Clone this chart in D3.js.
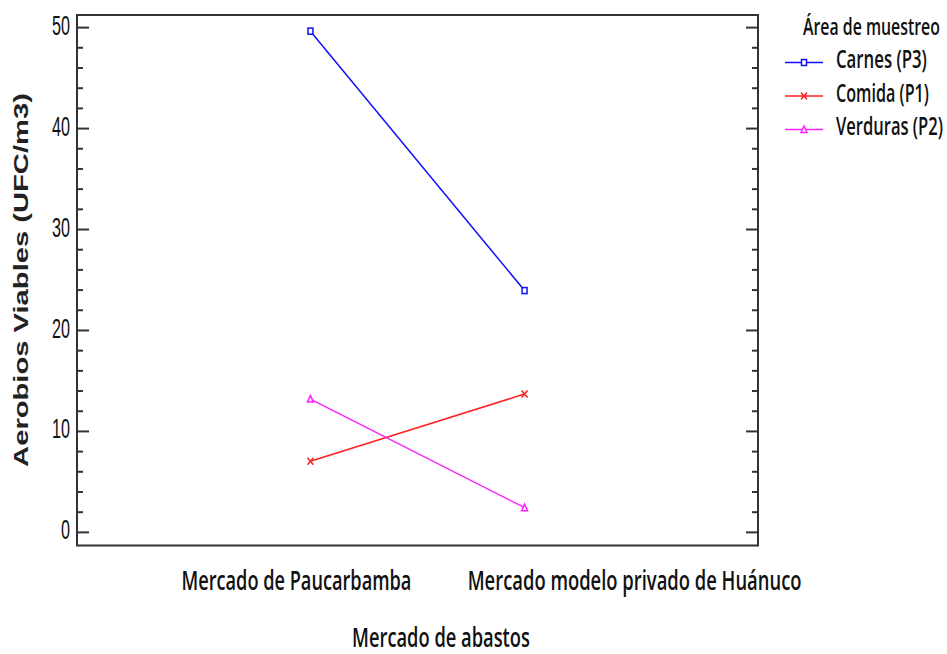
<!DOCTYPE html>
<html>
<head>
<meta charset="utf-8">
<script src="https://cdn.jsdelivr.net/npm/d3@7"></script>
<style>
  body { margin: 0; background: #fff; }
  svg { display: block; }
</style>
</head>
<body>
<svg id="chart" width="947" height="654"></svg>
<script>
// data
var categories = ["Mercado de Paucarbamba", "Mercado modelo privado de Huánuco"];
var seriesNames = ["Carnes (P3)", "Comida (P1)", "Verduras (P2)"];
var carnes = [49.6, 23.9];
var comida = [7.0, 13.65];
var verduras = [13.15, 2.4];
var yTicks = [0, 10, 20, 30, 40, 50];
var legendTitle = "Área de muestreo";
var xTitle = "Mercado de abastos";
var yTitle = "Aerobios Viables (UFC/m3)";

drawChart();

// squeeze a text horizontally so that it is `width` wide, starting at x (or centred / ending there)
function fitText(text, x, y, width, anchor, rotate) {
    var natural = text.node().getComputedTextLength();
    var sx = width / natural;
    var t = "translate(" + x + "," + y + ")" + (rotate ? " rotate(" + rotate + ")" : "") + " scale(" + sx + ",1)";
    text.attr("x", 0).attr("y", 0)
        .attr("text-anchor", anchor || "start")
        .attr("transform", t);
}

function drawChart() {
    var colors = ["#1010ff", "#ff2020", "#ff20ff"];
    var shapes = ["square", "cross", "triangle"];
    var values = [carnes, comida, verduras];

    var plotLeft = 77, plotRight = 758, plotTop = 15, plotBottom = 545.5;
    var axisColor = "#333";
    var labelFont = "'Open Sans', sans-serif";

    var svg = d3.select("#chart");

    if (svg.empty()) {
        throw new Error("Cannot find chart svg");
    }

    var x = d3.scalePoint()
        .domain(categories)
        .range([plotLeft, plotRight])
        .padding(1.09);

    var y = d3.scaleLinear()
        .domain([-1.35, 51.2])
        .range([plotBottom, plotTop]);

    // frame
    svg.append("rect")
        .attr("x", plotLeft)
        .attr("y", plotTop)
        .attr("width", plotRight - plotLeft)
        .attr("height", plotBottom - plotTop)
        .attr("fill", "none")
        .attr("stroke", axisColor)
        .attr("stroke-width", 2);

    var minorTicks = d3.range(2, 51, 2).filter(function (d) { return d % 10 !== 0; });

    function drawTicks(axisFn, xPos) {
        var major = svg.append("g")
            .attr("transform", "translate(" + xPos + ",0)")
            .call(axisFn(y).tickValues(yTicks).tickSize(-12).tickFormat(""));
        var minor = svg.append("g")
            .attr("transform", "translate(" + xPos + ",0)")
            .call(axisFn(y).tickValues(minorTicks).tickSize(-6).tickFormat(""));
        [major, minor].forEach(function (g) {
            g.select(".domain").remove();
            g.selectAll(".tick line").attr("stroke", axisColor).attr("stroke-width", 2);
        });
    }
    drawTicks(d3.axisLeft, plotLeft);
    drawTicks(d3.axisRight, plotRight);

    // y tick labels (narrow)
    var digitWidth = 9;
    yTicks.forEach(function (d) {
        var t = svg.append("text")
            .text(d)
            .attr("dy", "0.28em")
            .style("font-family", "'Liberation Sans', Arial, sans-serif")
            .style("font-size", "27px")
            .style("fill", "#111");
        fitText(t, plotLeft - 7, y(d), String(d).length * digitWidth, "end");
    });

    // x category labels
    var labelOffsets = [-14, 110];
    var labelWidths = [230, 334];
    categories.forEach(function (c, i) {
        var t = svg.append("text")
            .text(c)
            .style("font-family", labelFont)
            .style("font-weight", 600)
            .style("font-size", "27px")
            .style("fill", "#111");
        fitText(t, x(c) + labelOffsets[i], 590, labelWidths[i], "middle");
    });

    // axis titles
    var xt = svg.append("text")
        .text(xTitle)
        .style("font-family", labelFont)
        .style("font-weight", 600)
        .style("font-size", "27px")
        .style("fill", "#111");
    fitText(xt, 441, 647, 178, "middle");

    var yt = svg.append("text")
        .text(yTitle)
        .style("font-family", "'Liberation Sans', Arial, sans-serif")
        .style("font-weight", "bold")
        .style("font-size", "21px")
        .style("fill", "#222");
    fitText(yt, 28, 280, 374, "middle", -90);

    // markers
    function drawMarker(g, shape, color, cx, cy) {
        if (shape === "square") {
            g.append("rect")
                .attr("x", cx - 2.5).attr("y", cy - 3)
                .attr("width", 5).attr("height", 6)
                .attr("fill", "#fff").attr("stroke", color).attr("stroke-width", 1.5);
        } else if (shape === "cross") {
            g.append("path")
                .attr("d", "M" + (cx - 3) + "," + (cy - 3.5) + "L" + (cx + 3) + "," + (cy + 3.5) +
                    "M" + (cx + 3) + "," + (cy - 3.5) + "L" + (cx - 3) + "," + (cy + 3.5))
                .attr("stroke", color).attr("stroke-width", 1.5).attr("fill", "none");
        } else {
            g.append("path")
                .attr("d", "M" + cx + "," + (cy - 3.5) + "L" + (cx + 3) + "," + (cy + 3) + "L" + (cx - 3) + "," + (cy + 3) + "Z")
                .attr("stroke", color).attr("stroke-width", 1.5).attr("fill", "#fff");
        }
    }

    // series lines
    var line = d3.line()
        .x(function (d) { return x(d.cat); })
        .y(function (d) { return y(d.v); });

    values.forEach(function (vals, s) {
        var pts = vals.map(function (v, i) { return { cat: categories[i], v: v }; });
        var g = svg.append("g");
        g.append("path")
            .datum(pts)
            .attr("d", line)
            .attr("fill", "none")
            .attr("stroke", colors[s])
            .attr("stroke-width", 1.5);
        pts.forEach(function (p) {
            drawMarker(g, shapes[s], colors[s], x(p.cat), y(p.v));
        });
    });

    // legend
    var legendX = 785, legendTextX = 836, legendBase = 68, legendStep = 33.5;
    var legendWidths = [91, 93, 107];

    var lt = svg.append("text")
        .text(legendTitle)
        .style("font-family", labelFont)
        .style("font-weight", 600)
        .style("font-size", "24px")
        .style("fill", "#111");
    fitText(lt, 803, 35, 137);

    seriesNames.forEach(function (name, i) {
        var by = legendBase + i * legendStep;
        var g = svg.append("g");
        g.append("line")
            .attr("x1", legendX).attr("x2", legendX + 38)
            .attr("y1", by - 5.5).attr("y2", by - 5.5)
            .attr("stroke", colors[i]).attr("stroke-width", 1.5);
        drawMarker(g, shapes[i], colors[i], legendX + 19, by - 5.5);
        var t = g.append("text")
            .text(name)
            .style("font-family", labelFont)
            .style("font-weight", 600)
            .style("font-size", "25px")
            .style("fill", "#111");
        fitText(t, legendTextX, by, legendWidths[i]);
    });
}
</script>
</body>
</html>
